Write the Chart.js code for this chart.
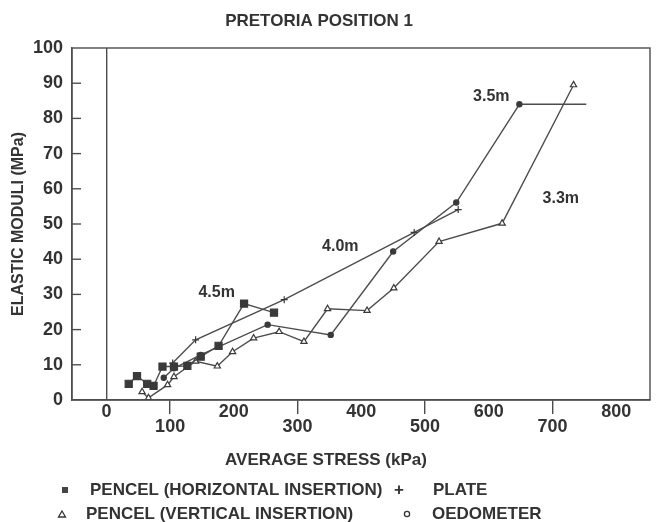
<!DOCTYPE html>
<html>
<head>
<meta charset="utf-8">
<script src="https://cdn.jsdelivr.net/npm/chart.js@4.4.0/dist/chart.umd.min.js"></script>
<style>
  html, body { margin: 0; padding: 0; background: #fff; }
  #wrap { width: 660px; height: 522px; }
</style>
</head>
<body>
<div id="wrap"><canvas id="chart" width="660" height="522"></canvas></div>
<script>
// axis ticks
const xTickValues = [0, 100, 200, 300, 400, 500, 600, 700, 800];
const yTickValues = [0, 10, 20, 30, 40, 50, 60, 70, 80, 90, 100];

// 4.5m - pencel, horizontal insertion (squares)
const stress45 = [35, 48, 64, 74, 88, 106, 127, 148, 176, 216, 263];
const moduli45 = [4.6, 6.8, 4.6, 4.0, 9.5, 9.5, 9.7, 12.3, 15.4, 27.4, 24.8];

// 4.0m - plate (+)
const stress40 = [104, 140, 279, 483, 552];
const moduli40 = [10.5, 17.1, 28.5, 47.6, 54.1];

// 3.5m - oedometer (circles)
const stress35 = [90, 106, 148, 253, 352, 450, 549, 648];
const moduli35 = [6.3, 9.0, 12.8, 21.4, 18.5, 42.2, 56.1, 84];

// 3.3m - pencel, vertical insertion (triangles)
const stress33 = [56, 66, 96, 106, 140, 174, 198, 231, 271, 310, 347, 409, 451, 522, 621, 733];
const moduli33 = [2.3, 0.6, 4.3, 6.6, 11.0, 9.6, 13.7, 17.6, 19.4, 16.6, 25.9, 25.4, 31.8, 45.0, 50.2, 89.5];

// horizontal marker line at the 3.5m end point
const markStress = [648, 753];
const markModuli = [84, 84];

// depth labels and where they sit (data units)
const depthNames = ['4.5m', '4.0m', '3.5m', '3.3m'];
const depthStress = [173, 367, 604, 713];
const depthModuli = [30.5, 43.6, 86.3, 57.3];

const lineGray = '#4d4d4d';
const inkColor = '#333';
const fontFamily = '"Liberation Sans", Arial, Helvetica, sans-serif';

function toPoints(xs, ys) {
    return xs.map((x, i) => ({ x: x, y: ys[i] }));
}

// draws frame, inner ticks, titles, depth labels and legend
const decor = {
    id: 'decor',
    beforeDraw(chart) {
        const ctx = chart.ctx;
        ctx.save();
        ctx.fillStyle = '#fff';
        ctx.fillRect(0, 0, chart.width, chart.height);
        ctx.restore();
    },
    afterDraw(chart) {
        const ctx = chart.ctx;
        const a = chart.chartArea;
        const xs = chart.scales.x;
        const ys = chart.scales.y;
        ctx.save();
        ctx.strokeStyle = lineGray;
        ctx.lineWidth = 1.4;
        ctx.strokeRect(a.left, a.top, a.right - a.left, a.bottom - a.top);

        // inner y ticks
        yTickValues.forEach(v => {
            if (v === 0 || v === 100) return;
            const py = ys.getPixelForValue(v);
            ctx.beginPath();
            ctx.moveTo(a.left, py);
            ctx.lineTo(a.left + 9, py);
            ctx.stroke();
        });

        ctx.fillStyle = inkColor;
        ctx.textBaseline = 'middle';
        ctx.font = 'bold 17px ' + fontFamily;

        // titles
        ctx.textAlign = 'center';
        ctx.fillText('PRETORIA POSITION 1', 319, 21);
        ctx.fillText('AVERAGE STRESS (kPa)', 326, 460);

        // depth labels
        ctx.font = 'bold 16px ' + fontFamily;
        depthNames.forEach((name, i) => {
            ctx.fillText(name, xs.getPixelForValue(depthStress[i]), ys.getPixelForValue(depthModuli[i]));
        });

        // legend
        ctx.font = 'bold 17px ' + fontFamily;
        ctx.textAlign = 'left';
        const r1 = 490, r2 = 514;
        ctx.fillStyle = '#444';
        ctx.fillRect(62, r1 - 3, 6, 6);
        ctx.fillStyle = inkColor;
        ctx.fillText('PENCEL (HORIZONTAL INSERTION)', 90, r1);
        ctx.fillText('+', 394, r1);
        ctx.fillText('PLATE', 433, r1);

        ctx.beginPath();
        ctx.moveTo(62, r2 - 3);
        ctx.lineTo(65.5, r2 + 3);
        ctx.lineTo(58.5, r2 + 3);
        ctx.closePath();
        ctx.lineWidth = 1.3;
        ctx.strokeStyle = inkColor;
        ctx.stroke();
        ctx.fillText('PENCEL (VERTICAL INSERTION)', 86, r2);
        ctx.beginPath();
        ctx.arc(407, r2, 2.6, 0, Math.PI * 2);
        ctx.stroke();
        ctx.fillText('OEDOMETER', 432, r2);
        ctx.restore();
    }
};

const lineStyle = {
    showLine: true,
    borderColor: lineGray,
    borderWidth: 1.4,
    tension: 0,
    pointBorderColor: '#3a3a3a',
    pointBorderWidth: 1.2
};

new Chart(document.getElementById('chart'), {
    type: 'scatter',
    data: {
        datasets: [
            Object.assign({}, lineStyle, {
                label: '4.5m',
                data: toPoints(stress45, moduli45),
                pointStyle: 'rect',
                pointRadius: 5,
                pointBackgroundColor: '#3a3a3a'
            }),
            Object.assign({}, lineStyle, {
                label: '4.0m',
                data: toPoints(stress40, moduli40),
                pointStyle: 'cross',
                pointRadius: 3.5,
                pointBackgroundColor: '#3a3a3a'
            }),
            Object.assign({}, lineStyle, {
                label: '3.5m',
                data: toPoints(stress35, moduli35),
                pointStyle: 'circle',
                pointRadius: 2.6,
                pointBackgroundColor: '#3a3a3a'
            }),
            Object.assign({}, lineStyle, {
                label: '3.3m',
                data: toPoints(stress33, moduli33),
                pointStyle: 'triangle',
                pointRadius: 3.6,
                pointBackgroundColor: '#fff'
            }),
            Object.assign({}, lineStyle, {
                label: 'mark',
                data: toPoints(markStress, markModuli),
                pointRadius: 0
            })
        ]
    },
    options: {
        responsive: false,
        animation: false,
        layout: { padding: { top: 48, right: 10, left: 0, bottom: 0 } },
        plugins: {
            legend: { display: false },
            tooltip: { enabled: false }
        },
        scales: {
            x: {
                type: 'linear',
                min: -54,
                max: 853,
                afterBuildTicks: scale => { scale.ticks = xTickValues.map(v => ({ value: v })); },
                afterFit: scale => { scale.height = 122; },
                border: { color: lineGray, width: 1.4 },
                grid: {
                    drawOnChartArea: true,
                    drawTicks: true,
                    tickLength: 14,
                    lineWidth: 1.4,
                    color: ctx => (ctx.tick && ctx.tick.value === 0) ? lineGray : 'transparent',
                    tickColor: ctx => (ctx.tick && ctx.tick.value % 200 === 100) ? lineGray : 'transparent'
                },
                ticks: {
                    padding: -10,
                    maxRotation: 0,
                    autoSkip: false,
                    color: inkColor,
                    font: { family: fontFamily, size: 18, weight: 'bold', lineHeight: 0.85 },
                    callback: v => (v % 200 === 0) ? String(v) : ['', String(v)]
                }
            },
            y: {
                min: 0,
                max: 100,
                afterBuildTicks: scale => { scale.ticks = yTickValues.map(v => ({ value: v })); },
                afterFit: scale => { scale.width = 72; },
                border: { color: lineGray, width: 1.4 },
                grid: { drawOnChartArea: false, drawTicks: false },
                ticks: {
                    padding: 9,
                    color: inkColor,
                    font: { family: fontFamily, size: 18, weight: 'bold' }
                },
                title: {
                    display: true,
                    text: 'ELASTIC MODULI (MPa)',
                    color: inkColor,
                    padding: { top: 9, bottom: 0 },
                    font: { family: fontFamily, size: 16, weight: 'bold' }
                }
            }
        }
    },
    plugins: [decor]
});
</script>
</body>
</html>
